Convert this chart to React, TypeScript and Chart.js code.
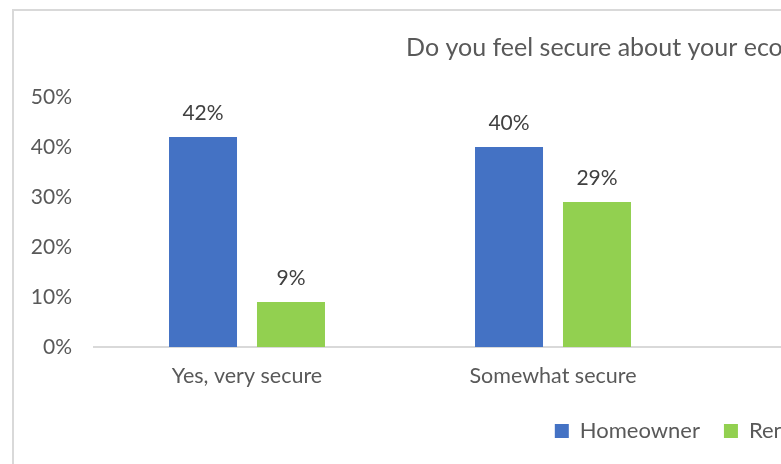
import React, { useEffect, useRef } from 'react';
import { Chart, registerables } from 'chart.js';

Chart.register(...registerables);

const chartTitle = 'Do you feel secure about your economic situation?';
const categories = ['Yes, very secure', 'Somewhat secure', 'Not very secure', 'Not at all secure'];
const seriesNames = ['Homeowner', 'Renter'];
const homeownerValues: (number | null)[] = [42, 40, null, null];
const renterValues: (number | null)[] = [9, 29, null, null];
const yTickValues = [0, 10, 20, 30, 40, 50];
const seriesColors = ['#4472C4', '#92D050'];

const FONT = 'Lato';
const CANVAS_W = 1332;
const CANVAS_H = 470;
const PLOT_LEFT = 80;
const PLOT_RIGHT = 1304;
const PAD_LEFT = 36;

const valueLabels = {
  id: 'valueLabels',
  afterDatasetsDraw(chart: any) {
    const ctx = chart.ctx;
    ctx.save();
    ctx.font = `21px ${FONT}`;
    ctx.fillStyle = '#404040';
    ctx.textAlign = 'center';
    ctx.textBaseline = 'middle';
    chart.data.datasets.forEach((ds: any, i: number) => {
      const meta = chart.getDatasetMeta(i);
      meta.data.forEach((el: any, j: number) => {
        const v = ds.data[j];
        if (v == null) return;
        ctx.fillText(`${v}%`, el.x, el.y - 24);
      });
    });
    ctx.restore();
  },
};

export default function App() {
  const ref = useRef<HTMLCanvasElement | null>(null);

  useEffect(() => {
    document.documentElement.style.overflow = 'hidden';
    document.body.style.overflow = 'hidden';
    let chart: Chart | null = null;
    let cancelled = false;
    const make = () => {
      if (cancelled || !ref.current) return;
      Chart.defaults.font.family = FONT;
      chart = new Chart(ref.current, {
        type: 'bar',
        data: {
          labels: categories,
          datasets: [
            {
              label: seriesNames[0],
              data: homeownerValues,
              backgroundColor: seriesColors[0],
              borderWidth: 0,
              categoryPercentage: 0.575,
              barPercentage: 0.773,
            },
            {
              label: seriesNames[1],
              data: renterValues,
              backgroundColor: seriesColors[1],
              borderWidth: 0,
              categoryPercentage: 0.575,
              barPercentage: 0.773,
            },
          ],
        },
        options: {
          animation: false,
          responsive: false,
          devicePixelRatio: 1,
          layout: { padding: { left: PAD_LEFT, right: CANVAS_W - PLOT_RIGHT, top: 0, bottom: 29 } },
          plugins: {
            title: {
              display: true,
              text: chartTitle,
              color: '#595959',
              font: { family: FONT, size: 25, weight: 'normal' },
              padding: { top: 21.5, bottom: 34.5 },
            },
            legend: {
              position: 'bottom',
              labels: {
                boxWidth: 14,
                boxHeight: 14,
                padding: 24,
                color: '#595959',
                font: { family: FONT, size: 22 },
              },
            },
            tooltip: { enabled: false },
          },
          scales: {
            x: {
              grid: { display: false, drawTicks: false },
              border: { display: true, color: '#d9d9d9', width: 2 },
              ticks: { color: '#595959', font: { family: FONT, size: 21.5 }, padding: 16.5, maxRotation: 0 },
              afterFit: (s: any) => {
                s.height = 49;
              },
            },
            y: {
              min: 0,
              max: 50,
              grid: { display: false, drawTicks: false },
              border: { display: false },
              ticks: {
                color: '#595959',
                font: { family: FONT, size: 21 },
                padding: 22,
                callback: (v: any) => `${v}%`,
              },
              afterBuildTicks: (s: any) => {
                s.ticks = yTickValues.map((v) => ({ value: v }));
              },
              afterFit: (s: any) => {
                s.width = PLOT_LEFT - PAD_LEFT;
                s._computeLabelArea = () => undefined;
              },
            },
          },
        },
        plugins: [valueLabels],
      } as any);
    };
    const fonts: any = (document as any).fonts;
    if (fonts && fonts.load) {
      Promise.all([fonts.load(`21px ${FONT}`), fonts.load(`25px ${FONT}`)]).then(make, make);
    } else {
      make();
    }
    return () => {
      cancelled = true;
      if (chart) chart.destroy();
    };
  }, []);

  return (
    <div
      style={{
        position: 'absolute',
        left: 12,
        top: 9,
        width: CANVAS_W + 4,
        height: CANVAS_H + 4,
        border: '2px solid #d9d9d9',
        boxSizing: 'border-box',
        background: '#fff',
      }}
    >
      <canvas ref={ref} width={CANVAS_W} height={CANVAS_H} style={{ display: 'block', width: CANVAS_W, height: CANVAS_H }} />
    </div>
  );
}
